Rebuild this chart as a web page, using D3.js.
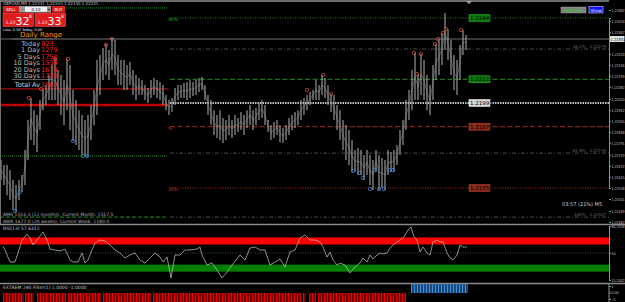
<!DOCTYPE html>
<html>
<head>
  <meta charset="UTF-8">
  <title>GBPUSD,M5</title>
  <style>
    body { margin: 0; background: #000; }
    svg { display: block; font-family: 'DejaVu Sans', sans-serif; }
  </style>
</head>
<body>
  <script src="https://cdn.jsdelivr.net/npm/d3@7"></script>
  <script>
    const width = 625,
      height = 302,
      plotRight = 609

    // price bars: bar number, high, low
    const barX = [0, 3, 6, 9, 12, 15, 18, 21, 24, 27, 30, 33, 36, 39, 42, 45, 48, 51, 54, 57, 60, 63, 66, 69, 72, 75, 78, 81, 84, 87,
      90, 93, 96, 99, 102, 105, 108, 111, 114, 117, 120, 123, 126, 129, 132, 135, 138, 141, 144, 147, 150, 153, 156, 159, 162, 165, 168, 171, 174, 177,
      180, 183, 186, 189, 192, 195, 198, 201, 204, 207, 210, 213, 216, 219, 222, 225, 228, 231, 234, 237, 240, 243, 246, 249, 252, 255, 258, 261, 264, 267,
      270, 273, 276, 279, 282, 285, 288, 291, 294, 297, 300, 303, 306, 309, 312, 315, 318, 321, 324, 327, 330, 333, 336, 339, 342, 345, 348, 351, 354, 357,
      360, 363, 366, 369, 372, 375, 378, 381, 384, 387, 390, 393, 396, 399, 402, 405, 408, 411, 414, 417, 420, 423, 426, 429, 432, 435, 438, 441, 444, 447,
      450, 453, 456, 459, 462, 465]
    const barHigh = [1.21703, 1.21677, 1.21677, 1.21651, 1.21599, 1.21573, 1.21599, 1.21625, 1.21755, 1.21911, 1.22025, 1.21962, 1.21937, 1.22014, 1.22072, 1.22092, 1.22144, 1.22196, 1.22227, 1.22170, 1.22144, 1.22118, 1.22227, 1.22196, 1.22066, 1.22014, 1.21962, 1.21937, 1.21911, 1.21937,
      1.21988, 1.22066, 1.22222, 1.22248, 1.22284, 1.22305, 1.22274, 1.22336, 1.22326, 1.22248, 1.22222, 1.22222, 1.22196, 1.22212, 1.22170, 1.22144, 1.22129, 1.22118, 1.22092, 1.22077, 1.22118, 1.22129, 1.22118, 1.22108, 1.22092, 1.22040, 1.22014, 1.22025, 1.22077, 1.22092,
      1.22092, 1.22103, 1.22108, 1.22118, 1.22108, 1.22118, 1.22129, 1.22134, 1.22092, 1.22040, 1.22014, 1.21962, 1.21937, 1.21962, 1.21921, 1.21911, 1.21937, 1.21911, 1.21937, 1.21921, 1.21952, 1.21937, 1.21962, 1.21988, 1.21962, 1.21973, 1.21999, 1.22014, 1.21988, 1.21911,
      1.21885, 1.21900, 1.21911, 1.21885, 1.21869, 1.21885, 1.21921, 1.21937, 1.21952, 1.21962, 1.22014, 1.22025, 1.22040, 1.22056, 1.22066, 1.22118, 1.22092, 1.22144, 1.22129, 1.22092, 1.22046, 1.22040, 1.21988, 1.21962, 1.21911, 1.21885, 1.21859, 1.21807, 1.21755, 1.21765,
      1.21755, 1.21729, 1.21755, 1.21729, 1.21703, 1.21755, 1.21729, 1.21713, 1.21703, 1.21755, 1.21745, 1.21755, 1.21781, 1.21859, 1.21911, 1.22014, 1.22066, 1.22170, 1.22258, 1.22149, 1.22253, 1.22222, 1.22144, 1.22092, 1.22196, 1.22305, 1.22331, 1.22362, 1.22466, 1.22383,
      1.22326, 1.22248, 1.22222, 1.22300, 1.22378, 1.22352]
    const barLow = [1.21599, 1.21573, 1.21521, 1.21496, 1.21444, 1.21433, 1.21496, 1.21537, 1.21573, 1.21703, 1.21807, 1.21781, 1.21745, 1.21859, 1.21962, 1.21988, 1.22014, 1.22014, 1.22014, 1.21988, 1.21937, 1.21885, 1.21962, 1.21859, 1.21802, 1.21781, 1.21755, 1.21729, 1.21719, 1.21719,
      1.21807, 1.21885, 1.21937, 1.22040, 1.22118, 1.22144, 1.22118, 1.22170, 1.22144, 1.22092, 1.22092, 1.22066, 1.22066, 1.22092, 1.22040, 1.22014, 1.22040, 1.22040, 1.22014, 1.21999, 1.22025, 1.22040, 1.22025, 1.22014, 1.21988, 1.21962, 1.21937, 1.21952, 1.21988, 1.22014,
      1.22025, 1.22025, 1.22014, 1.22025, 1.22035, 1.22040, 1.22056, 1.22066, 1.22014, 1.21937, 1.21885, 1.21833, 1.21817, 1.21807, 1.21791, 1.21807, 1.21833, 1.21817, 1.21833, 1.21848, 1.21859, 1.21833, 1.21869, 1.21885, 1.21859, 1.21885, 1.21911, 1.21921, 1.21885, 1.21848,
      1.21807, 1.21817, 1.21833, 1.21796, 1.21791, 1.21807, 1.21833, 1.21859, 1.21869, 1.21885, 1.21911, 1.21937, 1.21962, 1.21988, 1.22014, 1.22014, 1.22014, 1.22040, 1.22025, 1.21988, 1.21952, 1.21911, 1.21859, 1.21807, 1.21755, 1.21703, 1.21677, 1.21641, 1.21641, 1.21625,
      1.21625, 1.21599, 1.21625, 1.21573, 1.21547, 1.21641, 1.21547, 1.21558, 1.21547, 1.21625, 1.21641, 1.21641, 1.21677, 1.21729, 1.21781, 1.21859, 1.21911, 1.21962, 1.22014, 1.22014, 1.22040, 1.22014, 1.21962, 1.21937, 1.22014, 1.22118, 1.22144, 1.22196, 1.22274, 1.22222,
      1.22144, 1.22066, 1.22040, 1.22118, 1.22248, 1.22274]

    // fractal marks
    const upFractalX = [29, 41, 55, 68, 106, 112, 307, 323, 331, 414, 417, 421, 435, 438, 443, 446, 461]
    const upFractalP = [1.22025, 1.22072, 1.22227, 1.22227, 1.22300, 1.22331, 1.22066, 1.22144, 1.22046, 1.22258, 1.22149, 1.22253, 1.22305, 1.22331, 1.22362, 1.22383, 1.22378]
    const downFractalX = [15, 20, 73, 83, 87, 353, 360, 363, 370, 375, 379, 384, 389, 393]
    const downFractalP = [1.21439, 1.21537, 1.21802, 1.21724, 1.21724, 1.21646, 1.21636, 1.21610, 1.21553, 1.21651, 1.21553, 1.21553, 1.21651, 1.21651]

    const bidPrice = 1.22331
    const priceTicks = [1.22482, 1.22424, 1.22367, 1.22253, 1.22196, 1.22139, 1.22082, 1.22020, 1.21962, 1.21905, 1.21848, 1.21791,
      1.21729, 1.21672, 1.21615, 1.21558, 1.21501, 1.21439, 1.21382]

    // daily levels (today starts at bar 168)
    const todayStart = 168
    const todayLevels = [1.22440, 1.22279, 1.22122, 1.21999, 1.21876, 1.21739, 1.21558, 1.21407]
    const todayKinds = ['hiDot', 'fib', 'hiDash', 'open', 'loDash', 'fib', 'loDot', 'fib']
    const boxLevels = [1.22440, 1.22122, 1.21999, 1.21876, 1.21558]
    const boxKinds = ['green', 'green', 'white', 'red', 'red']
    const fibLevels = [1.22279, 1.21739, 1.21407]
    const fibNames = ['38.2%', '61.8%', '100%']
    const prevLevels = [1.22492, 1.22072, 1.21988, 1.21724, 1.21407]
    const prevKinds = ['hiDot', 'redThin', 'redThick', 'hiDot', 'hiDash']

    // daily range table
    const rangeNames = ['Today', '1 Day', '5 Days', '10 Days', '20 Days', '30 Days']
    const rangeValues = [923, 1279, 1750, 1534, 1674, 1728]
    const rangeAverage = 1583

    // RSI
    const rsiX = [3, 5, 10, 15, 20, 22, 27, 30, 33, 37, 43, 47, 50, 55, 60, 65, 70, 73, 78, 82, 85, 88, 92, 95, 100, 105, 110, 115, 120, 125,
      130, 135, 140, 145, 150, 155, 160, 163, 167, 171, 175, 180, 185, 190, 197, 200, 202, 207, 212, 217, 222, 227, 232, 237, 240, 245, 250, 255, 260, 265,
      270, 275, 280, 285, 290, 295, 300, 305, 310, 315, 320, 323, 327, 330, 333, 337, 340, 345, 350, 355, 360, 363, 367, 370, 373, 377, 380, 383, 387, 390,
      393, 397, 400, 404, 408, 411, 414, 417, 420, 423, 427, 430, 433, 437, 440, 443, 447, 450, 453, 457, 460, 463, 467]
    const rsiValues = [58.1, 53.9, 38.4, 38.4, 58.1, 66.7, 74.4, 69.3, 60.3, 66.7, 76.9, 66.7, 55.1, 53.9, 52.6, 55.1, 41.0, 38.4, 38.4, 50.0, 37.1, 41.0, 53.9, 62.9, 66.7, 65.4, 60.3, 53.9, 50.0, 43.6,
      47.4, 50.0, 41.0, 37.1, 43.6, 50.0, 45.0, 38.4, 44.8, 17.8, 47.4, 47.4, 53.9, 53.9, 55.1, 57.7, 47.4, 34.5, 37.1, 28.1, 17.8, 25.5, 34.5, 42.3, 47.4, 41.0, 56.4, 57.7, 53.9, 53.9,
      34.5, 38.4, 42.3, 32.0, 51.3, 53.9, 69.3, 73.2, 66.7, 66.7, 64.2, 57.7, 44.8, 51.3, 41.0, 34.5, 37.1, 34.5, 24.3, 32.0, 37.1, 43.6, 38.4, 47.4, 42.3, 47.4, 50.0, 48.7, 50.0, 56.4,
      60.3, 64.2, 66.7, 70.6, 79.6, 83.5, 70.6, 66.7, 51.3, 57.7, 50.0, 47.4, 64.2, 66.7, 64.2, 64.2, 50.0, 43.6, 41.0, 47.4, 60.3, 57.7, 57.7]
    const rsiMin = 15.2442, rsiMax = 84.7558
    const rsiHighBand = [61, 70]
    const rsiLowBand = [26, 35]

    // EXTREM histogram spans: first bar, last bar, value
    const histStart = [3, 25, 37, 50, 68, 103, 153, 303, 309, 318, 411]
    const histEnd = [22, 33, 47, 65, 100, 150, 300, 305, 315, 405, 467]
    const histValue = [-1, -1, -1, -1, -1, -1, -1, -1, -1, -1, 1]

    const svg = d3.select('body')
      .append('svg')
      .attr('width', width)
      .attr('height', height)
      .style('background', '#000')

    const x = d3.scaleLinear()
      .domain([0, plotRight])
      .range([0, plotRight])

    const y = d3.scaleLinear()
      .domain([1.21558, 1.22440])
      .range([188, 18])

    const yRsi = d3.scaleLinear()
      .domain([rsiMin, rsiMax])
      .range([280, 226])

    const yHist = d3.scaleLinear()
      .domain([-1, 1])
      .range([302, 284])

    const fmt = d3.format('.5f')

    // previous day levels
    const prevStyle = {
      hiDot: { stroke: '#1f8f1f', dash: '1,1', w: 1 },
      hiDash: { stroke: '#1f8f1f', dash: '4,2', w: 1 },
      redThin: { stroke: '#d01010', dash: null, w: 1 },
      redThick: { stroke: '#c00000', dash: null, w: 2.5 }
    }
    prevLevels.forEach((p, i) => {
      const s = prevStyle[prevKinds[i]]
      svg.append('line')
        .attr('x1', x(0)).attr('x2', x(todayStart))
        .attr('y1', y(p)).attr('y2', y(p))
        .attr('stroke', s.stroke)
        .attr('stroke-width', s.w)
        .attr('stroke-dasharray', s.dash)
    })

    // today levels
    const todayStyle = {
      hiDot: { stroke: '#1f8f1f', dash: '1,1.5', w: 1 },
      hiDash: { stroke: '#1f8f1f', dash: '5,2.5', w: 1 },
      open: { stroke: '#ffffff', dash: '1.5,1', w: 1.5 },
      loDash: { stroke: '#a0301c', dash: '5,2.5', w: 1 },
      loDot: { stroke: '#a0301c', dash: '1,1.5', w: 1 },
      fib: { stroke: '#4a4a4a', dash: '4,2,1,2', w: 1 }
    }
    todayLevels.forEach((p, i) => {
      const s = todayStyle[todayKinds[i]]
      svg.append('line')
        .attr('x1', x(todayStart) + 2).attr('x2', plotRight)
        .attr('y1', y(p)).attr('y2', y(p))
        .attr('stroke', s.stroke)
        .attr('stroke-width', s.w)
        .attr('stroke-dasharray', s.dash)
    })

    // percent tags at start of today
    const pctTags = [[1.22440, '50%', '#22b022'], [1.21876, '%', '#c04030'], [1.21558, '25%', '#c04030']]
    pctTags.forEach(t => {
      svg.append('text')
        .attr('x', x(todayStart)).attr('y', y(t[0]) + 3)
        .attr('fill', t[2])
        .attr('font-size', 4.5)
        .text(t[1])
    })

    // bid line
    svg.append('line')
      .attr('x1', 0).attr('x2', plotRight)
      .attr('y1', y(bidPrice)).attr('y2', y(bidPrice))
      .attr('stroke', '#707070')
      .attr('stroke-width', 1)

    // price bars
    svg.append('path')
      .datum(barX)
      .attr('fill', 'none')
      .attr('stroke', '#7a7a7a')
      .attr('stroke-width', 0.6)
      .attr('d', d3.line()
        .x((d) => x(d) + 1)
        .y((d, i) => y((barHigh[i] + barLow[i]) / 2)))

    svg.append('g')
      .selectAll('line')
      .data(barX)
      .join('line')
      .attr('x1', (d) => x(d) + 1)
      .attr('x2', (d) => x(d) + 1)
      .attr('y1', (d, i) => y(barHigh[i]))
      .attr('y2', (d, i) => y(barLow[i]))
      .attr('stroke', '#a4a4a4')
      .attr('stroke-width', 1.1)

    // fractals
    svg.append('g')
      .selectAll('circle')
      .data(upFractalX)
      .join('circle')
      .attr('cx', (d) => x(d))
      .attr('cy', (d, i) => y(upFractalP[i]))
      .attr('r', 1.7)
      .attr('fill', 'none')
      .attr('stroke', '#c8503c')
      .attr('stroke-width', 0.8)

    svg.append('g')
      .selectAll('circle')
      .data(downFractalX)
      .join('circle')
      .attr('cx', (d) => x(d))
      .attr('cy', (d, i) => y(downFractalP[i]))
      .attr('r', 1.7)
      .attr('fill', 'none')
      .attr('stroke', '#3a80d0')
      .attr('stroke-width', 0.8)

    // level boxes
    const boxColor = {
      green: ['#0c7a0c', '#20c020'],
      white: ['#d8d8d8', '#ffffff'],
      red: ['#8a2a18', '#c04030']
    }
    boxLevels.forEach((p, i) => {
      const c = boxColor[boxKinds[i]]
      svg.append('rect')
        .attr('x', 469).attr('y', y(p) - 3.5)
        .attr('width', 21).attr('height', 7)
        .attr('fill', c[0])
        .attr('stroke', c[1])
        .attr('stroke-width', 0.5)
      svg.append('text')
        .attr('x', 470).attr('y', y(p) + 2)
        .attr('fill', '#000')
        .attr('font-size', 5.5)
        .text(fmt(p))
    })

    fibLevels.forEach((p, i) => {
      svg.append('text')
        .attr('x', 606).attr('y', y(p) - 1)
        .attr('text-anchor', 'end')
        .attr('fill', '#6a6a6a')
        .attr('font-size', 4)
        .text(fibNames[i] + ' - ' + fmt(p))
    })

    // price axis
    svg.append('g')
      .attr('transform', `translate(${plotRight},0)`)
      .call(d3.axisRight(y).tickValues(priceTicks).tickSize(2).tickFormat(fmt))
      .call((g) => g.select('.domain').attr('stroke', '#909090'))
      .call((g) => g.selectAll('.tick line').attr('stroke', '#909090'))
      .call((g) => g.selectAll('.tick text').attr('fill', '#c0c0c0').attr('font-size', 3.6).attr('x', 2.5))

    svg.append('rect')
      .attr('x', plotRight + 1).attr('y', y(bidPrice) - 3)
      .attr('width', 14.5).attr('height', 6)
      .attr('fill', '#e0e0e0')
    svg.append('text')
      .attr('x', plotRight + 1.5).attr('y', y(bidPrice) + 1.5)
      .attr('fill', '#000')
      .attr('font-size', 3.6)
      .text(fmt(bidPrice))

    // panel borders
    svg.append('line').attr('x1', 0).attr('x2', plotRight).attr('y1', 1).attr('y2', 1)
      .attr('stroke', '#909090').attr('stroke-width', 1.5)
    svg.append('line').attr('x1', 0.5).attr('x2', 0.5).attr('y1', 0).attr('y2', 224)
      .attr('stroke', '#707070').attr('stroke-width', 1)
    ;[224.5, 283.5].forEach((yy) => {
      svg.append('line').attr('x1', 0).attr('x2', width).attr('y1', yy).attr('y2', yy)
        .attr('stroke', '#8a8a8a').attr('stroke-width', 1.5)
    })

    svg.append('path')
      .attr('d', 'M466,1 L472,1 L469,4 Z')
      .attr('fill', '#a0a0a0')

    // RSI panel
    svg.append('rect')
      .attr('x', 0).attr('y', yRsi(rsiHighBand[1]))
      .attr('width', plotRight).attr('height', yRsi(rsiHighBand[0]) - yRsi(rsiHighBand[1]))
      .attr('fill', '#ff0000')
    svg.append('rect')
      .attr('x', 0).attr('y', yRsi(rsiLowBand[1]))
      .attr('width', plotRight).attr('height', yRsi(rsiLowBand[0]) - yRsi(rsiLowBand[1]))
      .attr('fill', '#008000')
    svg.append('line')
      .attr('x1', 0).attr('x2', plotRight)
      .attr('y1', yRsi(50)).attr('y2', yRsi(50))
      .attr('stroke', '#2f4f4f').attr('stroke-dasharray', '1,1.5')

    svg.append('path')
      .datum(rsiX)
      .attr('fill', 'none')
      .attr('stroke', '#c8c8c8')
      .attr('stroke-width', 0.7)
      .attr('d', d3.line()
        .x((d) => x(d))
        .y((d, i) => yRsi(rsiValues[i])))

    svg.append('g')
      .attr('transform', `translate(${plotRight},0)`)
      .call(d3.axisRight(yRsi).tickValues([rsiMax, 50, rsiMin]).tickSize(2)
        .tickFormat((d) => d === 50 ? '50' : d3.format('.4f')(d)))
      .call((g) => g.select('.domain').attr('stroke', '#909090'))
      .call((g) => g.selectAll('.tick line').attr('stroke', '#909090'))
      .call((g) => g.selectAll('.tick text').attr('fill', '#c0c0c0').attr('font-size', 3.6).attr('x', 2.5))

    svg.append('text')
      .attr('x', 3).attr('y', 230)
      .attr('fill', '#c0c0c0').attr('font-size', 4.5)
      .text('RSI(13) 57.6312')

    // EXTREM histogram
    const histBars = []
    histStart.forEach((s, i) => {
      d3.range(s, histEnd[i] + 1, 1.5).forEach((b) => histBars.push({ b: b, v: histValue[i] }))
    })
    svg.append('g')
      .selectAll('rect')
      .data(histBars)
      .join('rect')
      .attr('x', (d) => x(d.b))
      .attr('y', (d) => Math.min(yHist(0), yHist(d.v)))
      .attr('width', 1)
      .attr('height', (d) => Math.abs(yHist(d.v) - yHist(0)))
      .attr('fill', (d) => d.v > 0 ? '#3a8ee6' : '#e80000')

    const histLabel = d3.scaleLinear().domain([-1, 1]).range([299, 286])
    svg.append('g')
      .attr('transform', `translate(${plotRight},0)`)
      .call(d3.axisRight(histLabel).tickValues([1, 0, -1]).tickSize(2)
        .tickFormat((d) => d === 0 ? '0.00' : d3.format('d')(d)))
      .call((g) => g.select('.domain').attr('stroke', '#909090').attr('d', 'M0,284V302'))
      .call((g) => g.selectAll('.tick line').attr('stroke', '#909090'))
      .call((g) => g.selectAll('.tick text').attr('fill', '#c0c0c0').attr('font-size', 3.6).attr('x', 2.5))

    svg.append('text')
      .attr('x', 3).attr('y', 289)
      .attr('fill', '#c0c0c0').attr('font-size', 4.5)
      .text('EXTREM 240 Filter(1) 1.0000 -1.0000')

    // range texts at bottom of main panel
    svg.append('text')
      .attr('x', 3).attr('y', 216)
      .attr('fill', '#b0b0b0').attr('font-size', 4.5)
      .text('AMR 1553.3 (12 months), Current Month: 1557.5')
    svg.append('text')
      .attr('x', 3).attr('y', 223)
      .attr('fill', '#b0b0b0').attr('font-size', 4.5)
      .text('AWR 1677.0 (20 weeks), Current Week: 1180.0')

    svg.append('text')
      .attr('x', 562).attr('y', 206)
      .attr('fill', '#d0d0d0').attr('font-size', 5)
      .text('03:57 (21%) M5')

    // top-right buttons
    svg.append('rect').attr('x', 561).attr('y', 7).attr('width', 25).attr('height', 6)
      .attr('fill', '#808080').attr('stroke', '#a0a0a0').attr('stroke-width', 0.5)
    svg.append('text').attr('x', 573.5).attr('y', 11.6).attr('text-anchor', 'middle')
      .attr('fill', '#20e020').attr('font-size', 4.2).text('XOR Flex')
    svg.append('rect').attr('x', 589).attr('y', 6.5).attr('width', 14).attr('height', 6.5)
      .attr('fill', '#1010f0').attr('stroke', '#d0d0ff').attr('stroke-width', 0.6)
    svg.append('text').attr('x', 596).attr('y', 11.5).attr('text-anchor', 'middle')
      .attr('fill', '#fff').attr('font-size', 4.2).text('Show')

    // title and trade panel
    svg.append('text')
      .attr('x', 3).attr('y', 5)
      .attr('fill', '#c0c0c0').attr('font-size', 4)
      .text('GBPUSD,M5 1.22331 1.22333 1.22330 1.22331')

    const panel = svg.append('g')
    panel.append('rect').attr('x', 3).attr('y', 6).attr('width', 16).attr('height', 6.5).attr('fill', '#d82020')
    panel.append('text').attr('x', 11).attr('y', 11).attr('text-anchor', 'middle').attr('fill', '#fff').attr('font-size', 4).text('SELL')
    panel.append('rect').attr('x', 19).attr('y', 6).attr('width', 32).attr('height', 6.5).attr('fill', '#9a9a9a')
    panel.append('rect').attr('x', 25).attr('y', 6.8).attr('width', 22).attr('height', 5).attr('fill', '#f0f0f0')
    panel.append('text').attr('x', 22).attr('y', 11).attr('text-anchor', 'middle').attr('fill', '#000').attr('font-size', 4).text('-')
    panel.append('text').attr('x', 36).attr('y', 11).attr('text-anchor', 'middle').attr('fill', '#000').attr('font-size', 4).text('0.10')
    panel.append('text').attr('x', 49).attr('y', 11).attr('text-anchor', 'middle').attr('fill', '#000').attr('font-size', 4).text('+')
    panel.append('rect').attr('x', 52).attr('y', 6).attr('width', 13).attr('height', 6.5).attr('fill', '#d82020')
    panel.append('text').attr('x', 58.5).attr('y', 11).attr('text-anchor', 'middle').attr('fill', '#fff').attr('font-size', 4).text('BUY')

    const quotes = [['1.22', '32', '8', 3], ['1.22', '33', '8', 35]]
    quotes.forEach((q) => {
      panel.append('rect').attr('x', q[3]).attr('y', 13).attr('width', 30.5).attr('height', 13.5)
        .attr('fill', '#e01c1c').attr('stroke', '#ff6060').attr('stroke-width', 0.5)
      panel.append('text').attr('x', q[3] + 2.5).attr('y', 24).attr('fill', '#fff').attr('font-size', 4.5).text(q[0])
      panel.append('text').attr('x', q[3] + 12.5).attr('y', 24.5).attr('fill', '#fff').attr('font-size', 11).text(q[1])
      panel.append('text').attr('x', q[3] + 26).attr('y', 18).attr('fill', '#fff').attr('font-size', 4.5).text(q[2])
    })
    panel.append('text').attr('x', 3).attr('y', 30.8).attr('fill', '#e0e0e0').attr('font-size', 3.6)
      .text('Lots: 0.00  Today: 0.00')

    // daily range table
    const table = svg.append('g')
    table.append('text').attr('x', 20).attr('y', 37).attr('fill', '#ff8c00').attr('font-size', 7).text('Daily Range')
    table.append('line').attr('x1', 12).attr('x2', 53).attr('y1', 39).attr('y2', 39).attr('stroke', '#808080').attr('stroke-width', 0.6)
    const rowY = [45.5, 52, 58.5, 65, 71.5, 78]
    rangeNames.forEach((n, i) => {
      table.append('text').attr('x', 40).attr('y', rowY[i]).attr('text-anchor', 'end')
        .attr('fill', '#b8b8b8').attr('font-size', 6.5).text(n)
      table.append('text').attr('x', 41).attr('y', rowY[i])
        .attr('fill', '#ff1a1a').attr('font-size', 6.5).text(rangeValues[i])
    })
    table.append('line').attr('x1', 12).attr('x2', 53).attr('y1', 79.5).attr('y2', 79.5).attr('stroke', '#a0a0a0').attr('stroke-width', 0.6)
    table.append('text').attr('x', 40).attr('y', 86.5).attr('text-anchor', 'end')
      .attr('fill', '#d0d0d0').attr('font-size', 6.5).text('Total Av')
    table.append('text').attr('x', 41).attr('y', 86.5)
      .attr('fill', '#ff1a1a').attr('font-size', 6.5).text(rangeAverage)
  </script>
</body>
</html>
